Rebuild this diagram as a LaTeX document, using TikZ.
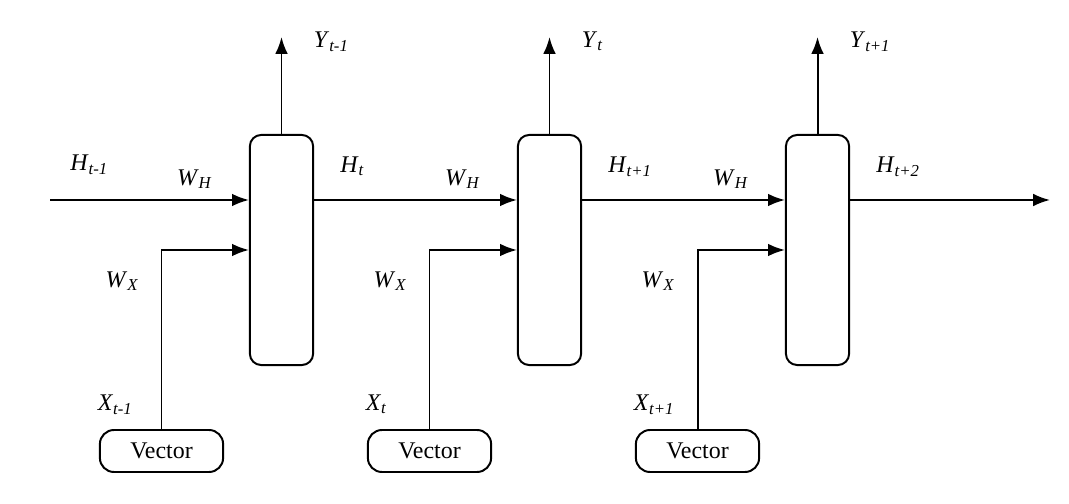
\documentclass[tikz,border=0pt]{standalone}
\usepackage{fontspec}
\setmainfont{Liberation Serif}
\usetikzlibrary{arrows.meta}
\newcommand\sym[2]{\textit{#1}\textsubscript{\textit{#2}}}

\begin{document}
\begin{tikzpicture}[x=0.0125cm, y=-0.0125cm, line width=0.7pt, text height=1.5ex, text depth=0.3ex, font=\fontsize{8.5}{10}\selectfont, flow/.style={-{Latex[length=6pt, width=4.5pt]}}]
  \useasboundingbox (0,0) rectangle (1069,504);
  \coordinate (hout0) at (50,200);
  \node[anchor=west] (hlab0) at (60,163) {\sym{H}{t-1}};
  \foreach \tcur/\tnxt [
    count=\pos,
    remember=\pos as \prevpos (initially 0)
  ] in {t-1/t,t/t+1,t+1/t+2} {
    \pgfmathsetmacro\cx{281.5+268*(\pos-1)}
    \node[
      draw,
      rounded corners=4pt,
      minimum width=0.79cm,
      minimum height=2.875cm,
    ] (cell\pos) at (\cx,250) {};
    \node[
      draw,
      rounded corners=5pt,
      minimum width=1.54cm,
      minimum height=0.5cm,
    ] (vec\pos) at (\cx-120,451) {Vector};
    \coordinate (ytip\pos) at (\cx,37);
    \coordinate (hout\pos) at (cell\pos.east |- hout0);
    \node[anchor=west] (ylab\pos) at (\cx+22,40) {\sym{Y}{\tcur}};
    \node[anchor=west] (hlab\pos) at (\cx+48.5,165) {\sym{H}{\tnxt}};
    \node (whlab\pos) at (\cx-86.5,178) {\sym{W}{H}};
    \node (wxlab\pos) at (\cx-159,280) {\sym{W}{X}};
    \node[anchor=west] (xlab\pos) at (\cx-194,403) {\sym{X}{\tcur}};
    \draw[flow] (cell\pos.north) -- (ytip\pos);
    \draw[flow] (hout\prevpos) -- (cell\pos.west |- hout0);
    \draw[flow] (vec\pos.north) |- (cell\pos.west);
  }
  \coordinate (hend) at (1050,200);
  \draw[flow] (hout3) -- (hend);
\end{tikzpicture}
\end{document}
